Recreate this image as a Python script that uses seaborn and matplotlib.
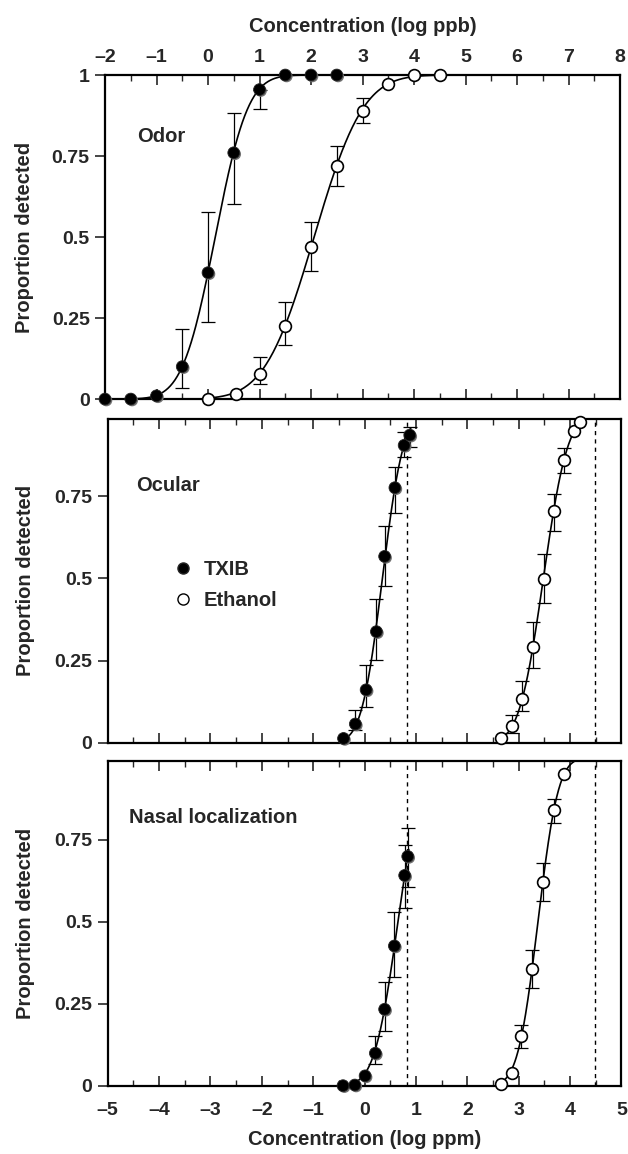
import math
import numpy as np
import pandas as pd
import matplotlib
matplotlib.use("Agg")
import matplotlib.pyplot as plt
import matplotlib.patheffects as pe
from matplotlib.lines import Line2D
import seaborn as sns

# ---------------- data ----------------
# Odor panel (concentration in log ppb)
odor_txib_x = [-2, -1.5, -1, -0.5, 0, 0.5, 1, 1.5, 2, 2.5]
odor_txib_y = [0, 0, 0.01, 0.10, 0.39, 0.76, 0.955, 1, 1, 1]
odor_txib_lo = [np.nan, np.nan, np.nan, 0.035, 0.237, 0.603, 0.895, np.nan, np.nan, np.nan]
odor_txib_hi = [np.nan, np.nan, np.nan, 0.216, 0.576, 0.884, 0.955, np.nan, np.nan, np.nan]

odor_eth_x = [0, 0.55, 1, 1.5, 2, 2.5, 3, 3.5, 4, 4.5]
odor_eth_y = [0, 0.015, 0.077, 0.226, 0.47, 0.718, 0.889, 0.971, 1, 1]
odor_eth_lo = [np.nan, np.nan, 0.045, 0.166, 0.396, 0.656, 0.853, np.nan, np.nan, np.nan]
odor_eth_hi = [np.nan, np.nan, 0.13, 0.30, 0.546, 0.78, 0.93, np.nan, np.nan, np.nan]

# Ocular panel (concentration in log ppm)
ocu_txib_x = [-0.41, -0.18, 0.03, 0.23, 0.39, 0.59, 0.77, 0.88]
ocu_txib_y = [0.013, 0.057, 0.161, 0.338, 0.567, 0.776, 0.905, 0.936]
ocu_txib_lo = [np.nan, 0.04, 0.11, 0.253, 0.477, 0.70, 0.87, 0.90]
ocu_txib_hi = [np.nan, 0.10, 0.238, 0.436, 0.66, 0.839, 0.946, 0.96]

ocu_eth_x = [2.65, 2.86, 3.07, 3.28, 3.49, 3.68, 3.88, 4.07, 4.19]
ocu_eth_y = [0.013, 0.051, 0.134, 0.292, 0.497, 0.704, 0.859, 0.948, 0.977]
ocu_eth_lo = [np.nan, 0.03, 0.095, 0.228, 0.426, 0.645, 0.822, np.nan, np.nan]
ocu_eth_hi = [np.nan, 0.085, 0.187, 0.367, 0.574, 0.757, 0.897, np.nan, np.nan]

# Nasal localization panel (concentration in log ppm)
nas_txib_x = [-0.42, -0.19, 0.01, 0.21, 0.39, 0.58, 0.78, 0.84]
nas_txib_y = [0.0, 0.002, 0.03, 0.099, 0.233, 0.426, 0.641, 0.699]
nas_txib_lo = [np.nan, np.nan, np.nan, 0.066, 0.167, 0.33, 0.541, 0.606]
nas_txib_hi = [np.nan, np.nan, np.nan, 0.152, 0.317, 0.529, 0.733, 0.786]

nas_eth_x = [2.65, 2.86, 3.05, 3.26, 3.47, 3.68, 3.88]
nas_eth_y = [0.004, 0.04, 0.15, 0.355, 0.62, 0.839, 0.951]
nas_eth_lo = [np.nan, np.nan, 0.114, 0.297, 0.562, 0.801, np.nan]
nas_eth_hi = [np.nan, np.nan, 0.185, 0.414, 0.679, 0.875, np.nan]

# Fitted cumulative-normal psychometric functions: (mu, sigma, x_start, x_end)
odor_txib_fit = (0.14, 0.50, -2.0, 2.5)
odor_eth_fit = (2.06, 0.75, 0.0, 4.5)
ocu_txib_fit = (0.347, 0.32, -0.45, 0.9)
ocu_eth_fit = (3.48, 0.37, 2.6, 4.5)
nas_txib_fit = (0.65, 0.36, -0.45, 0.86)
nas_eth_fit = (3.375, 0.31, 2.6, 4.4)

# Saturated-vapour limits (log ppm)
sat_txib = 0.83
sat_eth = 4.48

y_ticks_full = [0, 0.25, 0.5, 0.75, 1]
y_ticklabels_full = ["0", "0.25", "0.5", "0.75", "1"]
y_ticks = [0, 0.25, 0.5, 0.75]
y_ticklabels = ["0", "0.25", "0.5", "0.75"]
ppb_ticks = list(range(-2, 9))
ppm_ticks = list(range(-5, 6))

# ---------------- style ----------------
sns.set_theme(style="ticks")
plt.rcParams["font.family"] = ["Liberation Sans", "DejaVu Sans"]
plt.rcParams["font.weight"] = "bold"
plt.rcParams["axes.labelweight"] = "bold"
FS_TICK = 14
FS_LAB = 14.5
FS_PANEL = 14.5

fig = plt.figure(figsize=(6.28, 11.54), dpi=100)
ax_odor = fig.add_axes([0.1672, 0.6542, 0.8201, 0.2808])
ax_ocu = fig.add_axes([0.1715, 0.3564, 0.8181, 0.2805])
ax_nas = fig.add_axes([0.1715, 0.0592, 0.8181, 0.2814])

shadow = [pe.withSimplePatchShadow(offset=(1.0, -1.0), shadow_rgbFace="0.45", alpha=1.0)]


def fit_curve(params):
    mu, sd, x0, x1 = params
    xs = np.linspace(x0, x1, 200)
    ys = np.array([0.5 * (1 + math.erf((v - mu) / (sd * math.sqrt(2)))) for v in xs])
    return xs, ys


def draw_series(ax, x, y, lo, hi, fit, filled):
    xs, ys = fit_curve(fit)
    sns.lineplot(x=xs, y=ys, ax=ax, color="black", linewidth=1.2, zorder=2)
    x = np.asarray(x, float)
    y = np.asarray(y, float)
    lo = np.asarray(lo, float)
    hi = np.asarray(hi, float)
    m = ~np.isnan(lo)
    yerr = np.vstack([y[m] - lo[m], hi[m] - y[m]])
    ax.errorbar(x[m], y[m], yerr=yerr, fmt="none", ecolor="black",
                elinewidth=0.9, capsize=5, capthick=0.9, zorder=3)
    df = pd.DataFrame({"x": x, "y": y})
    if filled:
        sns.scatterplot(data=df, x="x", y="y", ax=ax, s=72, color="black",
                        edgecolor="0.15", linewidth=0.6, zorder=5, clip_on=False,
                        path_effects=shadow)
    else:
        sns.scatterplot(data=df, x="x", y="y", ax=ax, s=72, color="white",
                        edgecolor="black", linewidth=1.2, zorder=5, clip_on=False)


def style_axes(ax, xticks, ymax, yt, ytl, top_labels):
    ax.set_xlim(xticks[0], xticks[-1])
    ax.set_ylim(0, ymax)
    ax.set_xticks(xticks)
    ax.set_xticks(np.arange(xticks[0] + 0.5, xticks[-1], 1.0), minor=True)
    ax.set_yticks(yt)
    ax.set_yticklabels(ytl)
    ax.set_xticklabels([f"\u2013{abs(t)}" if t < 0 else str(t) for t in xticks])
    for s in ax.spines.values():
        s.set_linewidth(1.6)
        s.set_color("black")
        s.set_visible(True)
    ax.tick_params(axis="x", which="major", direction="in", length=7, width=1.2,
                   top=True, bottom=True, labelsize=FS_TICK,
                   pad=6.5 if top_labels else 12,
                   labeltop=top_labels, labelbottom=not top_labels)
    ax.tick_params(axis="x", which="minor", direction="in", length=4, width=1.0,
                   top=True, bottom=True)
    ax.tick_params(axis="y", which="major", direction="out", length=7, width=1.2,
                   left=True, right=False, labelsize=FS_TICK, pad=4)
    ax.tick_params(axis="y", which="minor", left=False, right=False)
    ax.set_ylabel("Proportion detected", fontsize=FS_LAB, fontweight="bold")
    ax.set_xlabel("")
    for lab in ax.get_xticklabels() + ax.get_yticklabels():
        lab.set_fontweight("bold")


# ---- Odor ----
draw_series(ax_odor, odor_txib_x, odor_txib_y, odor_txib_lo, odor_txib_hi, odor_txib_fit, True)
draw_series(ax_odor, odor_eth_x, odor_eth_y, odor_eth_lo, odor_eth_hi, odor_eth_fit, False)
style_axes(ax_odor, ppb_ticks, 1.0, y_ticks_full, y_ticklabels_full, True)
ax_odor.xaxis.set_label_position("top")
ax_odor.set_xlabel("Concentration (log ppb)", fontsize=FS_LAB, fontweight="bold")
ax_odor.xaxis.set_label_coords(0.5, 1.151)
ax_odor.xaxis.label.set_va("center")
ax_odor.text(-1.38, 0.81, "Odor", fontsize=FS_PANEL, fontweight="bold", ha="left", va="center")
ax_odor.yaxis.set_label_coords(-0.137, 0.5)

# ---- Ocular and nasal localization ----
for ax, (tx, ty, tlo, thi, tfit), (ex, ey, elo, ehi, efit), ymax in [
    (ax_ocu, (ocu_txib_x, ocu_txib_y, ocu_txib_lo, ocu_txib_hi, ocu_txib_fit),
     (ocu_eth_x, ocu_eth_y, ocu_eth_lo, ocu_eth_hi, ocu_eth_fit), 0.985),
    (ax_nas, (nas_txib_x, nas_txib_y, nas_txib_lo, nas_txib_hi, nas_txib_fit),
     (nas_eth_x, nas_eth_y, nas_eth_lo, nas_eth_hi, nas_eth_fit), 0.99),
]:
    for v in (sat_txib, sat_eth):
        ax.axvline(v, color="black", linestyle=(0, (3, 3)), linewidth=1.0, zorder=1)
    draw_series(ax, tx, ty, tlo, thi, tfit, True)
    draw_series(ax, ex, ey, elo, ehi, efit, False)
    style_axes(ax, ppm_ticks, ymax, y_ticks, y_ticklabels, False)
    ax.yaxis.set_label_coords(-0.142, 0.5)

ax_ocu.set_xticklabels([])
ax_ocu.text(-4.45, 0.783, "Ocular", fontsize=FS_PANEL, fontweight="bold", ha="left", va="center")
ax_nas.text(-4.585, 0.817, "Nasal localization", fontsize=FS_PANEL, fontweight="bold",
            ha="left", va="center")
ax_nas.set_xlabel("Concentration (log ppm)", fontsize=FS_LAB, fontweight="bold", labelpad=8)

# Legend for the two compounds
handles = [
    Line2D([], [], linestyle="none", marker="o", markersize=8, markerfacecolor="black",
           markeredgecolor="0.15", label="TXIB"),
    Line2D([], [], linestyle="none", marker="o", markersize=8, markerfacecolor="white",
           markeredgecolor="black", markeredgewidth=1.0, label="Ethanol"),
]
leg = ax_ocu.legend(handles=handles, loc="upper left", bbox_to_anchor=(0.126, 0.565),
                    frameon=False, fontsize=FS_LAB, handlelength=1.0, handletextpad=0.55,
                    labelspacing=0.6, borderpad=0, borderaxespad=0)
for t in leg.get_texts():
    t.set_fontweight("bold")

fig.savefig("out.png", dpi=100)
